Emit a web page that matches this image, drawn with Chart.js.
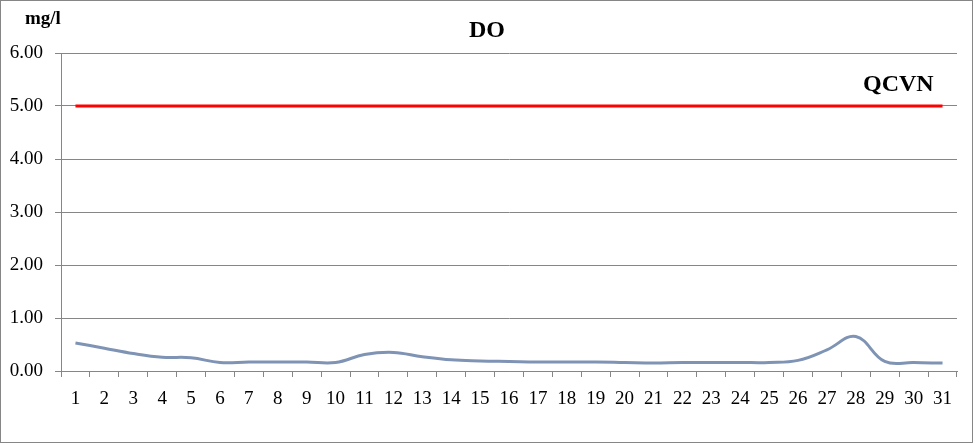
<!DOCTYPE html>
<html>
<head>
<meta charset="utf-8">
<script src="https://cdn.jsdelivr.net/npm/chart.js@4.4.1/dist/chart.umd.min.js"></script>
<style>
  html, body { margin: 0; padding: 0; background: #fff; }
  #wrap { width: 975px; height: 445px; position: relative; }
</style>
</head>
<body>
<div id="wrap"><canvas id="doChart"></canvas></div>
<script>
const days = ['1','2','3','4','5','6','7','8','9','10','11','12','13','14','15','16',
              '17','18','19','20','21','22','23','24','25','26','27','28','29','30','31'];
const doValues = [0.53, 0.43, 0.33, 0.26, 0.25, 0.16, 0.17, 0.17, 0.17, 0.16, 0.31, 0.35,
                  0.27, 0.21, 0.19, 0.18, 0.17, 0.17, 0.17, 0.16, 0.15, 0.16, 0.16, 0.16,
                  0.16, 0.20, 0.40, 0.65, 0.18, 0.16, 0.15];
const qcvnValues = days.map(() => 5.0);
const yTicks = [0, 1, 2, 3, 4, 5, 6];

const serif = '"Liberation Serif", "Times New Roman", serif';

const decorPlugin = {
    id: 'decor',
    beforeDraw(chart) {
        const ctx = chart.ctx;
        ctx.save();
        ctx.fillStyle = '#fff';
        ctx.fillRect(0, 0, chart.width, chart.height);
        ctx.strokeStyle = '#868686';
        ctx.lineWidth = 1;
        ctx.strokeRect(0.5, 0.5, 972, 442);
        ctx.restore();
    },
    afterDraw(chart) {
        const ctx = chart.ctx;
        const y = chart.scales.y;
        ctx.save();
        ctx.fillStyle = '#000';
        ctx.textBaseline = 'middle';
        ctx.textAlign = 'center';
        ctx.font = 'bold 24px ' + serif;
        ctx.fillText('DO', 487, 31);
        ctx.textAlign = 'left';
        ctx.font = 'bold 19px ' + serif;
        ctx.fillText('mg/l', 25, 19);
        ctx.font = 'bold 24px ' + serif;
        ctx.fillText('QCVN', 863, y.getPixelForValue(5) - 21);
        ctx.restore();
    }
};

new Chart(document.getElementById('doChart'), {
    type: 'line',
    data: {
        labels: days,
        datasets: [
            {
                label: 'DO',
                data: doValues,
                borderColor: '#7f93b5',
                borderWidth: 3,
                pointRadius: 0,
                tension: 0.4,
                fill: false
            },
            {
                label: 'QCVN',
                data: qcvnValues,
                borderColor: '#ff0000',
                borderWidth: 3,
                pointRadius: 0,
                tension: 0,
                fill: false
            }
        ]
    },
    options: {
        responsive: true,
        maintainAspectRatio: false,
        animation: false,
        layout: { padding: { top: 53, right: 18, left: 0, bottom: 0 } },
        plugins: {
            legend: { display: false },
            title: { display: false },
            tooltip: { enabled: false }
        },
        scales: {
            x: {
                offset: true,
                grid: {
                    offset: true,
                    drawOnChartArea: false,
                    drawTicks: true,
                    tickLength: 6,
                    color: '#868686'
                },
                border: { color: '#868686' },
                ticks: {
                    font: { family: serif, size: 19 },
                    color: '#000',
                    padding: 11,
                    maxRotation: 0,
                    autoSkip: false
                },
                afterFit(scale) { scale.height = 74; }
            },
            y: {
                min: 0,
                max: 6,
                afterBuildTicks(scale) { scale.ticks = yTicks.map(v => ({ value: v })); },
                grid: {
                    color: '#868686',
                    tickLength: 6
                },
                border: { color: '#868686' },
                ticks: {
                    font: { family: serif, size: 19 },
                    color: '#000',
                    padding: 12,
                    callback: v => Number(v).toFixed(2)
                },
                afterFit(scale) { scale.width = 61; }
            }
        }
    },
    plugins: [decorPlugin]
});
</script>
</body>
</html>
